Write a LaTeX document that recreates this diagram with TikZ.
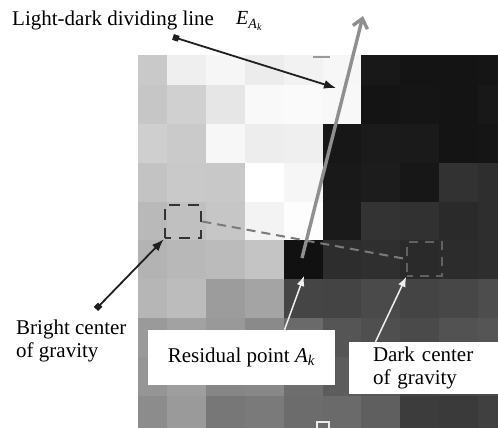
\documentclass[tikz,border=0pt]{standalone}
\usepackage{fontspec}
\setmainfont{Liberation Serif}
\usetikzlibrary{arrows.meta,positioning}

\newcommand{\Ak}{\textit{A}\textsubscript{\textit{k}}}

\begin{document}
\begin{tikzpicture}[x=1pt,y=-1pt,>=Latex,font=\fontsize{21}{23}\selectfont,
  lbl/.style={inner sep=0pt},
  whitebox/.style={fill=white,inner sep=0pt},
  centerbox/.style={draw=black!80,line width=2.6pt,dash pattern=on 11pt off 8pt,dash phase=5pt,
    minimum width=36pt,minimum height=33pt,inner sep=0pt},
  darkcenter/.style={draw=black!62,line width=1.6pt,dash pattern=on 9pt off 7pt,dash phase=3pt,
    minimum width=35pt,minimum height=34pt,inner sep=0pt},
  link/.style={draw=black!52,line width=2pt,dash pattern=on 9pt off 6pt},
  dividing/.style={draw=black!44,line width=3.4pt,-{Straight Barb[length=9pt,width=15pt]}},
  pointer/.style={draw=black!88,line width=1.8pt,{Square[length=6pt,width=6pt]}-{Latex[length=12pt,width=9pt]}},
  whitearr/.style={draw=black!6,line width=1.5pt,-{Latex[length=10pt,width=8pt]}}]
  \useasboundingbox (0,0) rectangle (498,428);

  \begin{scope}
    \clip (138,56) rectangle (498,428);
    \foreach \row [count=\r from 0] in {
      {201,239,246,236,242,247,24,20,20,21},
      {198,208,230,249,250,248,20,21,20,24},
      {207,202,247,237,239,23,27,26,20,21},
      {195,201,200,255,246,25,28,23,50,46},
      {185,192,198,243,253,26,51,49,42,46},
      {179,184,187,196,17,45,47,42,44,46},
      {182,188,156,164,69,68,74,68,71,77},
      {154,162,153,138,106,85,79,74,82,85},
      {149,158,134,136,110,92,88,68,71,74},
      {140,154,119,122,108,106,95,60,58,64}}
      \foreach \v [count=\c from 0] in \row
        \fill[fill={rgb,255:red,\v;green,\v;blue,\v}] (128.5+\c*38.8,46.4+\r*38.8) rectangle ++(39,39);
  \end{scope}
  \draw[black!40,line width=2pt] (313,57) -- (330,57);
  \draw[black!8,line width=1.2pt] (317,422) rectangle (329,432);

  \node[centerbox] (bright) at (183,221.5) {};
  \node[darkcenter] (dark) at (424.5,259) {};
  \draw[link] (bright.east) -- (dark.west);

  \coordinate (ek) at (302,258);
  \coordinate (etip) at (363,16);
  \draw[dividing] (ek) -- (etip);

  \coordinate (linedot) at (173,37);
  \coordinate (linetip) at (336,88);
  \draw[pointer] (linedot) -- (linetip);
  \coordinate (brightdot) at (96,309);
  \draw[pointer] (brightdot) -- (bright.south west);

  \node[whitebox,minimum width=187pt,minimum height=55pt] (resbox) at (241.5,357.5) {Residual point \Ak};
  \node[whitebox,minimum height=52pt,text width=101pt,inner xsep=24pt,align=left] (darklbl) at (423.5,368)
    {Dark center\\of gravity};
  \coordinate (akpt) at (304,276);
  \draw[whitearr] ([xshift=43pt]resbox.north) -- (akpt);
  \draw[whitearr] ([xshift=-48pt]darklbl.north) -- (dark.south west);

  \node[lbl,anchor=base west] (divlbl) at (12,26) {Light-dark dividing line};
  \node[lbl,anchor=base west,font=\fontsize{20}{22}\selectfont] (elbl) at (236,25) {\textit{E}\textsubscript{\Ak}};
  \node[lbl,anchor=base west,align=left] (brightlbl) at (16,357) {Bright center\\of gravity};
\end{tikzpicture}
\end{document}
